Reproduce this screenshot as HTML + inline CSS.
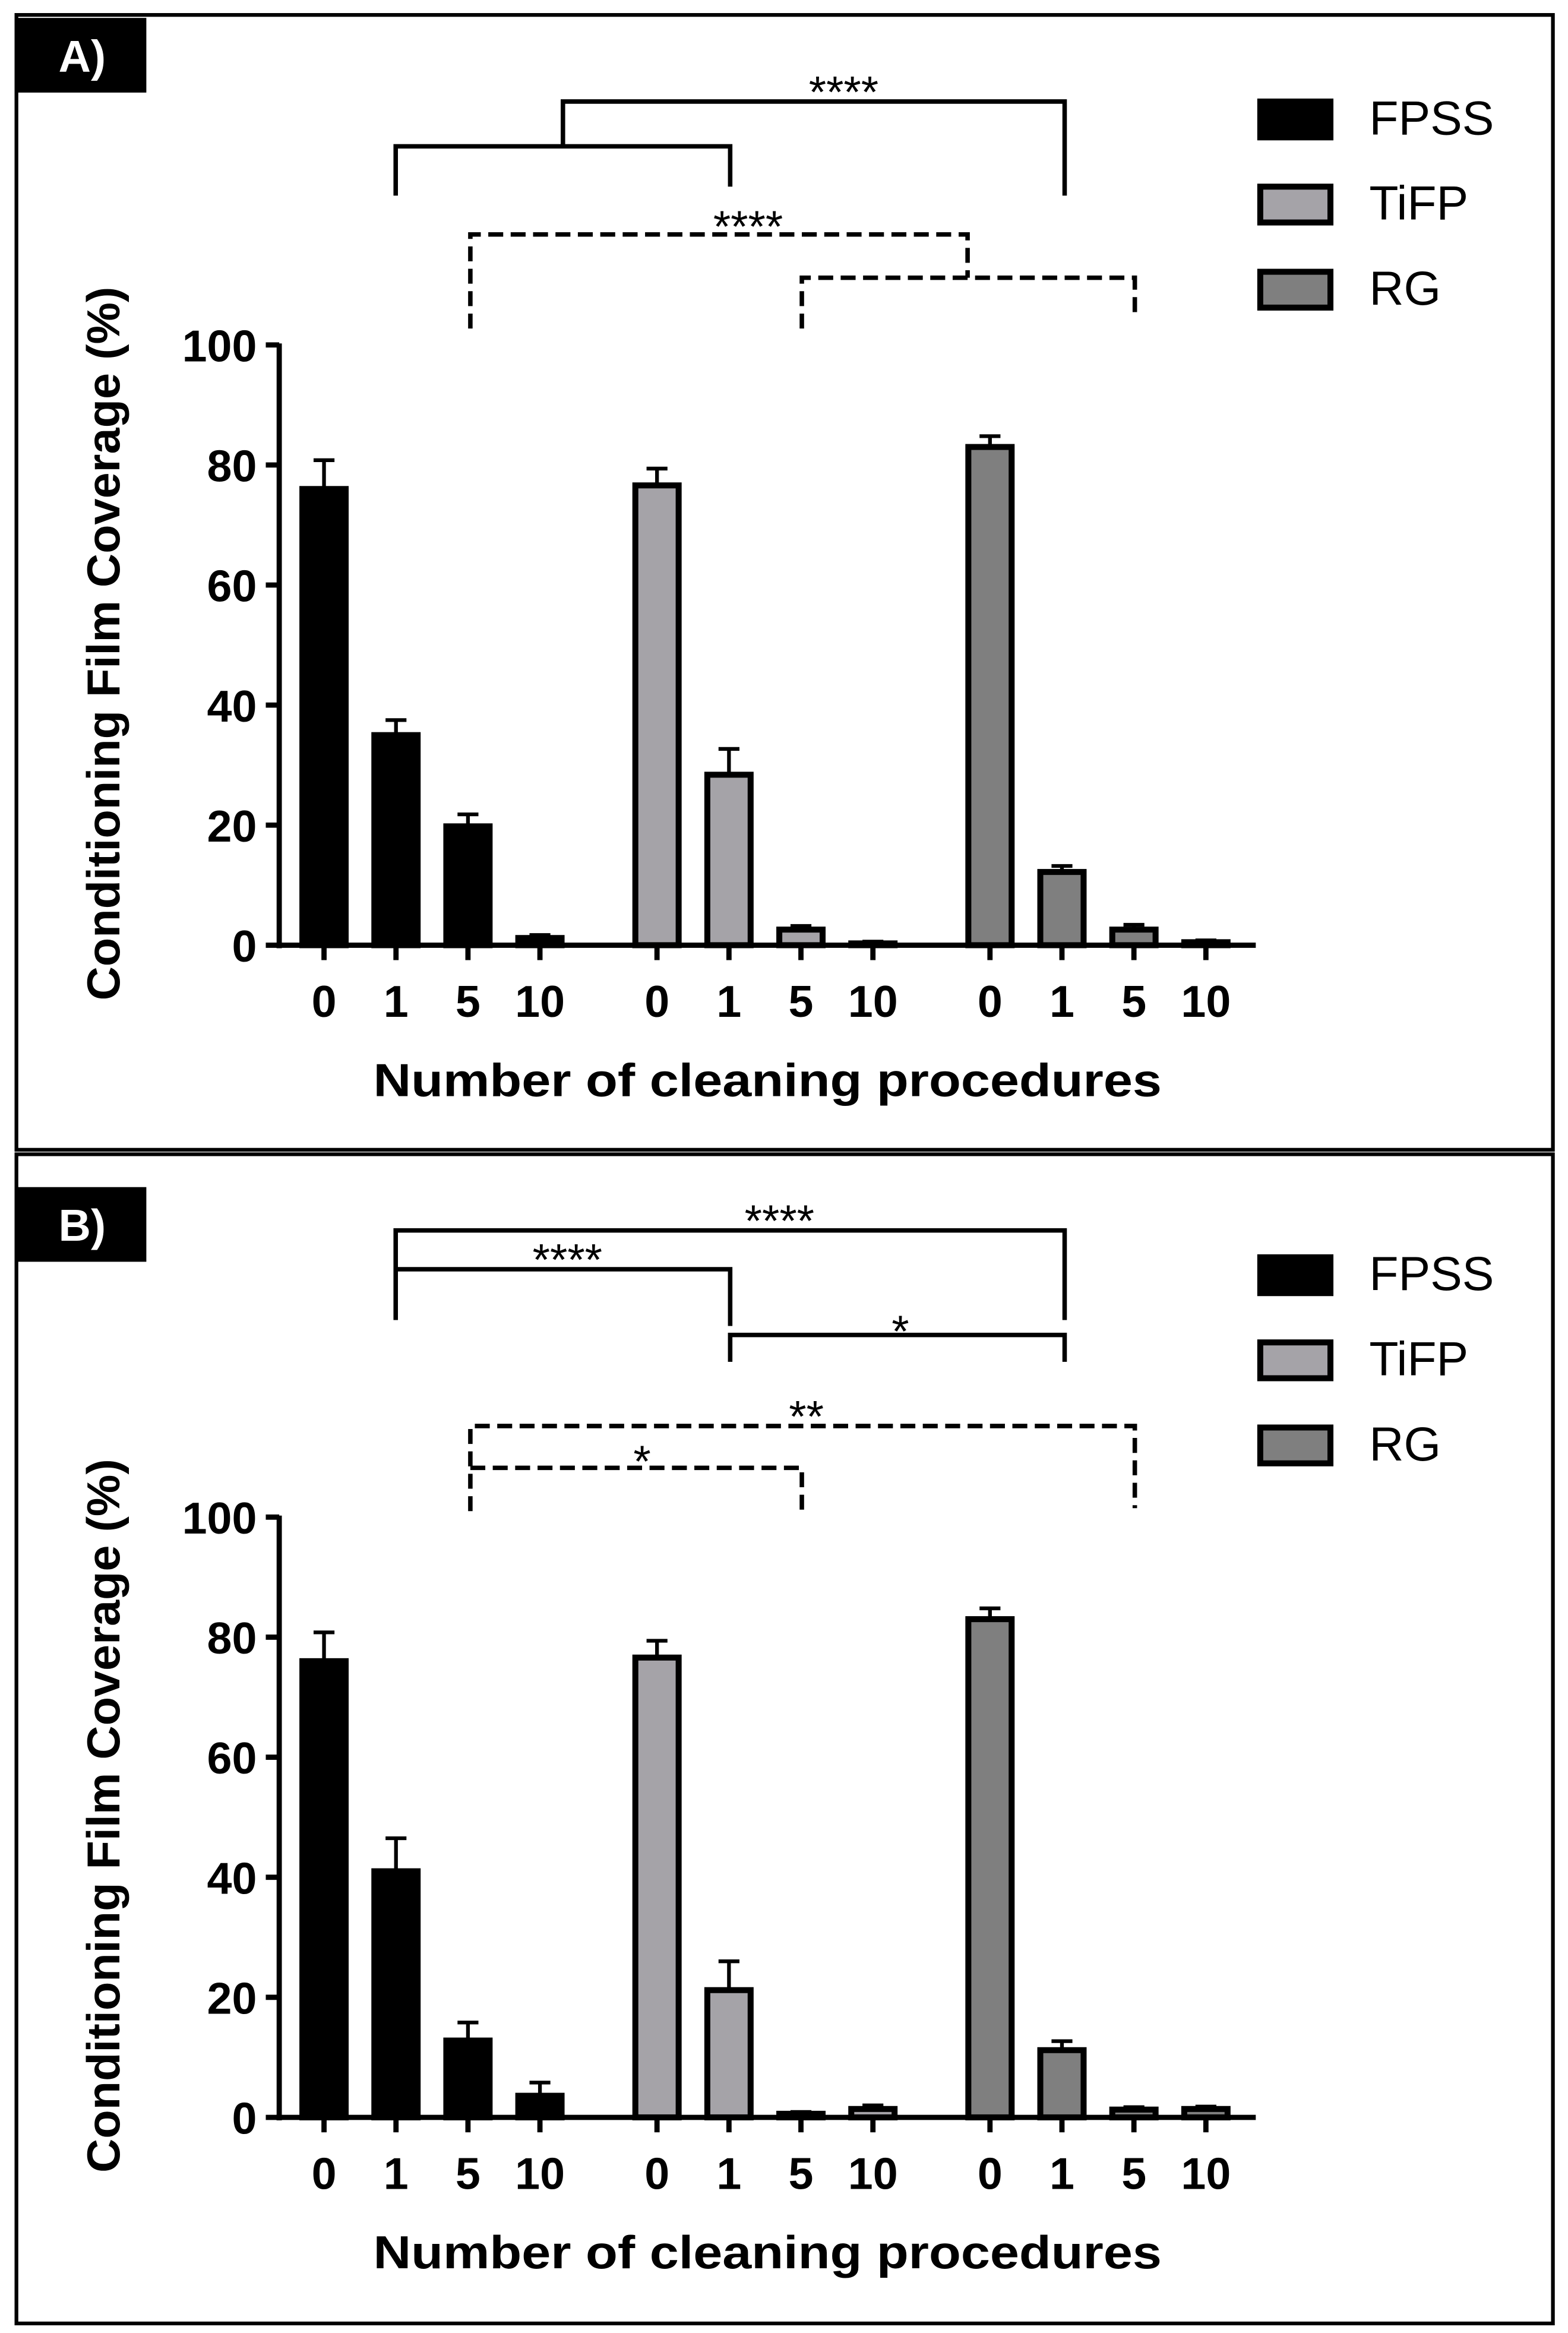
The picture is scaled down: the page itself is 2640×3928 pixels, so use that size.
<!DOCTYPE html>
<html><head><meta charset="utf-8"><style>
html,body{margin:0;padding:0;background:#fff;}
svg{display:block;}
text{font-family:"Liberation Sans",sans-serif;}
</style></head><body>
<svg id="fig" width="2640" height="3928" viewBox="0 0 1050.1 1562.4" preserveAspectRatio="none" xmlns="http://www.w3.org/2000/svg">
<rect x="0" y="0" width="1050.1" height="1562.4" fill="#fff"/>
<rect x="11" y="10" width="1029" height="760" fill="none" stroke="#000" stroke-width="2.5"/>
<rect x="11" y="773" width="1029" height="783" fill="none" stroke="#000" stroke-width="2.5"/>
<g id="pa"></g>
<g id="pb"></g>
</svg>
<script>
const groups = ['FPSS','TiFP','RG'];
const categories = ['0','1','5','10'];
const fills = ['#000','#a5a3a8','#7f7f7f'];
const yTicks = [0,20,40,60,80,100];
const meansA_FPSS = [76, 35, 19.8, 1.2];
const meansA_TiFP = [76.6, 28.4, 2.6, 0.3];
const meansA_RG = [83, 12.2, 2.6, 0.5];
const errA_FPSS = [4.8, 2.5, 2.0, 0.5];
const errA_TiFP = [2.8, 4.3, 0.6, 0.3];
const errA_RG = [1.8, 1.0, 0.8, 0.3];
const meansB_FPSS = [76, 41, 12.8, 3.6];
const meansB_TiFP = [76.6, 21.2, 0.6, 1.4];
const meansB_RG = [83, 11.2, 1.3, 1.4];
const errB_FPSS = [4.8, 5.5, 3.0, 2.2];
const errB_TiFP = [2.8, 4.8, 0.3, 0.6];
const errB_RG = [1.8, 1.5, 0.4, 0.4];

const NS='http://www.w3.org/2000/svg';
function mk(p,tag,a){const e=document.createElementNS(NS,tag);for(const k in a)e.setAttribute(k,a[k]);p.appendChild(e);return e;}

function drawPanel(g, label, off, means, errs, brackets){
  const y0=633+off, y100=231+off;
  const yS=v=>y0-(v/100)*(y0-y100);
  const xS=(gi,ci)=>217+gi*223+ci*48.2;
  const lb=mk(g,'rect',{x:12,y:12+off-(off?2:0),width:86,height:50,fill:'#000'});
  
  
  const lt=mk(g,'text',{x:55,y:48+off-(off?2:0),'text-anchor':'middle','font-size':30,'font-weight':'bold',fill:'#fff'});
  lt.textContent=label;
  
  
  const ya=mk(g,'line',{x1:187,y1:y100-1,x2:187,y2:y0+2,stroke:'#000','stroke-width':3.5});
  
  
  yTicks.forEach(t=>{
    const tk=mk(g,'line',{x1:178,y1:yS(t),x2:187,y2:yS(t),stroke:'#000','stroke-width':3.5});
    
    
    const tl=mk(g,'text',{x:172,y:yS(t)+11,'text-anchor':'end','font-size':30,'font-weight':'bold'});
    tl.textContent=t;
    
    
  });
  const xa=mk(g,'line',{x1:185,y1:y0,x2:841,y2:y0,stroke:'#000','stroke-width':3.5});
  
  
  groups.forEach((gn,gi)=>{
    categories.forEach((c,ci)=>{
      const x=xS(gi,ci), v=means[gi][ci], e=errs[gi][ci];
      const eb=mk(g,'path',{d:`M${x} ${yS(v)} V${yS(v+e)} M${x-7} ${yS(v+e)} H${x+7}`,stroke:'#000','stroke-width':2.5,fill:'none'});
      
      
      const h=y0-yS(v);
      const b=mk(g,'rect',{x:x-14.5,y:yS(v),width:29,height:Math.max(h,0.5),fill:fills[gi],stroke:'#000','stroke-width':4});
      
      
      const tk=mk(g,'line',{x1:x,y1:y0,x2:x,y2:y0+10,stroke:'#000','stroke-width':3.5});
      
      
      const tl=mk(g,'text',{x:x,y:y0+48,'text-anchor':'middle','font-size':30,'font-weight':'bold'});
      tl.textContent=c;
      
      
    });
  });
  const xt=mk(g,'text',{x:250,y:y0+101,'font-size':31,'font-weight':'bold',textLength:528,lengthAdjust:'spacingAndGlyphs'});
  xt.textContent='Number of cleaning procedures';
  
  
  const yt=mk(g,'text',{x:0,y:0,'text-anchor':'middle','font-size':31,'font-weight':'bold',textLength:478,lengthAdjust:'spacingAndGlyphs',transform:`translate(80,${(y0+y100)/2-1}) rotate(-90)`});
  yt.textContent='Conditioning Film Coverage (%)';
  
  
  groups.forEach((gn,gi)=>{
    const ly=66+gi*57+off+(off?-11:0);
    const sw=mk(g,'rect',{x:844,y:ly+2,width:47,height:24,fill:fills[gi],stroke:'#000','stroke-width':4});
    
    
    const st=mk(g,'text',{x:917,y:ly+24,'font-size':32});
    st.textContent=gn;
    
    
  });
  brackets.forEach(b=>{
    const p=mk(g,'path',{d:b.d,stroke:'#000','stroke-width':3,fill:'none','stroke-dasharray':b.dash?'10 5':'none'});
    
    
    if(b.t){const t=mk(g,'text',{x:b.tx,y:b.ty+4,'text-anchor':'middle','font-size':30});
      t.textContent=b.t;
      
      }
  });
}
drawPanel(document.getElementById('pa'),'A)',0,
  [meansA_FPSS,meansA_TiFP,meansA_RG],[errA_FPSS,errA_TiFP,errA_RG],
  [{d:'M265 131 V98 H489 V125'},{d:'M377 98 V68 H713 V131',t:'****',tx:565,ty:68},
   {d:'M315 220 V157 H648 V186',dash:1,t:'****',tx:501,ty:158},{d:'M537 220 V186 H760 V213',dash:1}]);
drawPanel(document.getElementById('pb'),'B)',785,
  [meansB_FPSS,meansB_TiFP,meansB_RG],[errB_FPSS,errB_TiFP,errB_RG],
  [{d:'M265 884 V824 H713 V884',t:'****',tx:522,ty:824},{d:'M265 850 H489 V888',t:'****',tx:380,ty:850},
   {d:'M489 912 V894 H713 V912',t:'*',tx:603,ty:898},
   {d:'M315 1012 V955 H760 V1010',dash:1,t:'**',tx:540,ty:955},{d:'M315 983 H537 V1015',dash:1,t:'*',tx:430,ty:985}]);
</script>
</body></html>
